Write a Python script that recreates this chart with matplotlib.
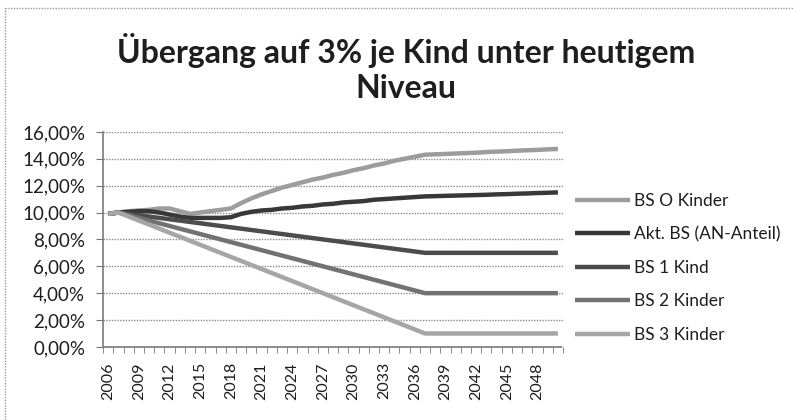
import matplotlib.pyplot as plt
from matplotlib.lines import Line2D

years = list(range(2006, 2051))
tick_years = list(range(2006, 2049, 3))

bs0 = [9.9, 10.0, 10.1, 10.15, 10.2, 10.3, 10.3, 10.1, 9.9, 10.0,
       10.1, 10.2, 10.3, 10.7, 11.05, 11.35, 11.6, 11.85, 12.05, 12.25,
       12.45, 12.6, 12.8, 12.95, 13.15, 13.3, 13.5, 13.65, 13.85, 14.0,
       14.15, 14.3, 14.33, 14.36, 14.39, 14.42, 14.45, 14.5, 14.53, 14.56,
       14.6, 14.63, 14.66, 14.7, 14.73]
akt = [9.9, 10.0, 10.05, 10.1, 10.1, 10.0, 9.85, 9.7, 9.6, 9.6,
       9.6, 9.6, 9.65, 9.9, 10.05, 10.15, 10.2, 10.3, 10.35, 10.45,
       10.5, 10.6, 10.65, 10.75, 10.8, 10.85, 10.95, 11.0, 11.05, 11.1,
       11.15, 11.2, 11.22, 11.24, 11.26, 11.28, 11.3, 11.32, 11.35, 11.37,
       11.4, 11.42, 11.45, 11.47, 11.5]
bs1 = [9.9, 10.0, 9.9, 9.8, 9.7, 9.6, 9.5, 9.4, 9.3, 9.2,
       9.1, 9.0, 8.9, 8.8, 8.7, 8.6, 8.5, 8.4, 8.3, 8.2,
       8.1, 8.0, 7.9, 7.8, 7.7, 7.6, 7.5, 7.4, 7.3, 7.2,
       7.1, 7.0, 7.0, 7.0, 7.0, 7.0, 7.0, 7.0, 7.0, 7.0,
       7.0, 7.0, 7.0, 7.0, 7.0]
bs2 = [9.9, 10.0, 9.8, 9.6, 9.4, 9.2, 9.0, 8.8, 8.6, 8.4,
       8.2, 8.0, 7.8, 7.6, 7.4, 7.2, 7.0, 6.8, 6.6, 6.4,
       6.2, 6.0, 5.8, 5.6, 5.4, 5.2, 5.0, 4.8, 4.6, 4.4,
       4.2, 4.0, 4.0, 4.0, 4.0, 4.0, 4.0, 4.0, 4.0, 4.0,
       4.0, 4.0, 4.0, 4.0, 4.0]
bs3 = [9.9, 10.0, 9.7, 9.4, 9.1, 8.8, 8.5, 8.2, 7.9, 7.6,
       7.3, 7.0, 6.7, 6.4, 6.1, 5.8, 5.5, 5.2, 4.9, 4.6,
       4.3, 4.0, 3.7, 3.4, 3.1, 2.8, 2.5, 2.2, 1.9, 1.6,
       1.3, 1.0, 1.0, 1.0, 1.0, 1.0, 1.0, 1.0, 1.0, 1.0,
       1.0, 1.0, 1.0, 1.0, 1.0]

labels = ["BS O Kinder", "Akt. BS (AN-Anteil)", "BS 1 Kind", "BS 2 Kinder", "BS 3 Kinder"]
series = [bs0, akt, bs1, bs2, bs3]
colors = ["#9c9c9c", "#383838", "#4c4c4c", "#727272", "#a6a6a6"]

plt.rcParams['font.family'] = ['Lato', 'DejaVu Sans']
txt = "#1e1e1e"

fig = plt.figure(figsize=(7.93, 4.2), dpi=100)
ax = fig.add_axes([0.130, 0.174, 0.580, 0.512])

for vals, lab, col in zip(series, labels, colors):
    ax.plot(years, vals, color=col, lw=3.2, label=lab, solid_capstyle='butt')

ax.set_xlim(2005.5, 2050.5)
ax.set_ylim(0, 16)
ax.set_yticks(range(0, 17, 2))
ax.set_yticklabels(["%d,00%%" % v for v in range(0, 17, 2)], fontsize=13.5, color=txt)
ax.set_xticks(tick_years)
ax.set_xticklabels([str(y) for y in tick_years], rotation=90, fontsize=11.5, color=txt)
ax.set_xticks([y - 0.5 for y in years] + [2050.5], minor=True)
ax.tick_params(axis='x', which='major', length=0, pad=11)
ax.tick_params(axis='x', which='minor', length=4, color="#777777", direction='out')
ax.tick_params(axis='y', length=5, color="#777777", pad=8)

ax.grid(axis='y', color="#8a8a8a", linestyle=(0, (1, 1)), lw=1)
ax.set_axisbelow(True)
for s in ['top', 'right']:
    ax.spines[s].set_visible(False)
for s in ['left', 'bottom']:
    ax.spines[s].set_color("#7a7a7a")
    ax.spines[s].set_linestyle((0, (1, 1)))
    ax.spines[s].set_linewidth(1.2)

fig.text(0.512, 0.838, "Übergang auf 3% je Kind unter heutigem\nNiveau",
         ha='center', va='center', fontsize=23, fontweight='bold', color=txt,
         linespacing=1.25)

ax.legend(loc='upper left', bbox_to_anchor=(1.01, 0.75), frameon=False,
          fontsize=12.5, handlelength=3.2, handletextpad=0.2, labelspacing=1.01,
          labelcolor=txt, borderaxespad=0)

# dotted chart border from the scan
fig.add_artist(Line2D([5 / 793, 5 / 793], [0, 1 - 8 / 420], transform=fig.transFigure,
                      color="#999999", lw=1, linestyle=(0, (1, 1))))
fig.add_artist(Line2D([5 / 793, 1], [1 - 8 / 420, 1 - 8 / 420], transform=fig.transFigure,
                      color="#999999", lw=1, linestyle=(0, (1, 1))))

fig.savefig("out.png", dpi=100)
